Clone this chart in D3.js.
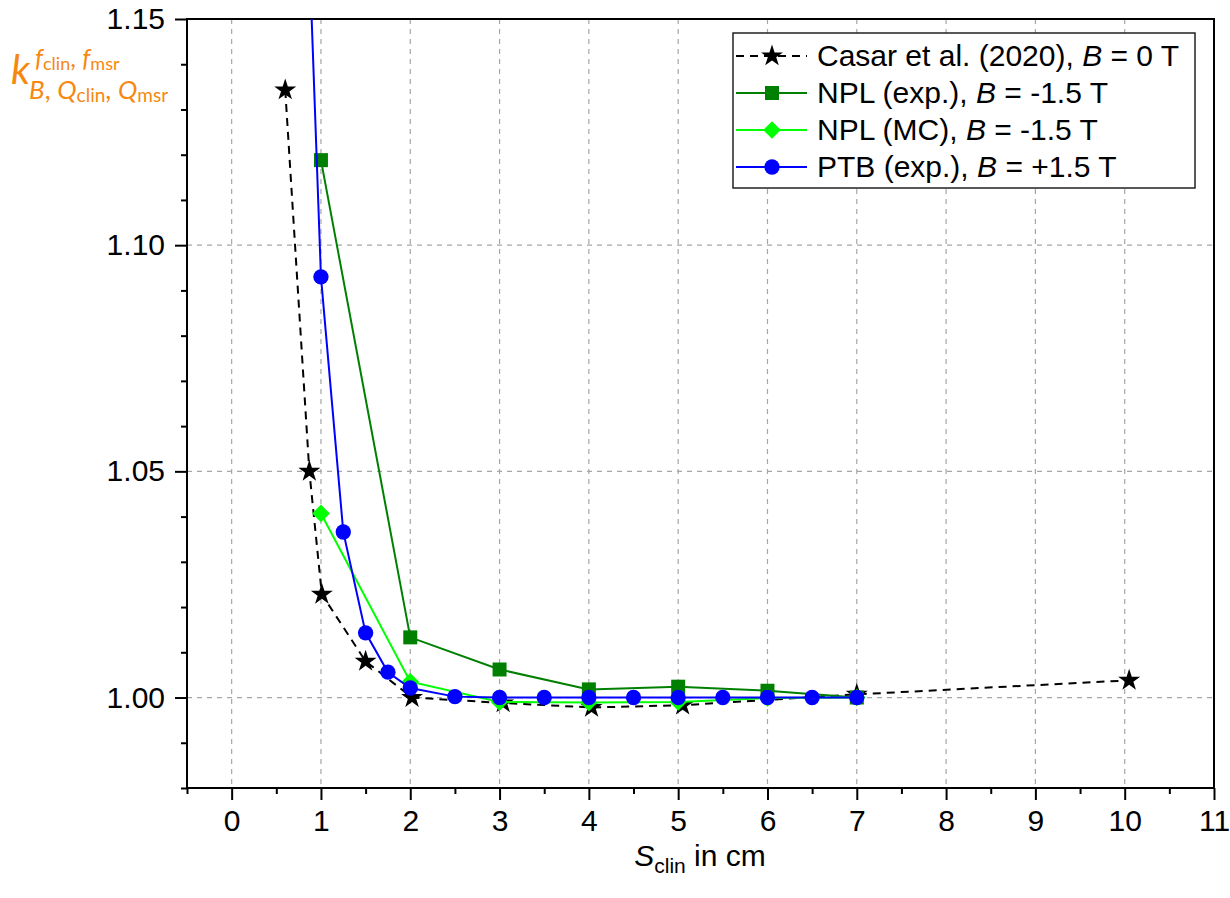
<!DOCTYPE html>
<html>
<head>
<meta charset="utf-8">
<script src="https://cdn.jsdelivr.net/npm/d3@7"></script>
<style>
  html, body { margin: 0; padding: 0; background: #fff; }
  svg { display: block; font-family: "Liberation Sans", Arial, sans-serif; }
</style>
</head>
<body>
<svg id="chart" width="1230" height="898"></svg>
<script>
// ---------------- data ----------------
const casarX = [0.6, 0.87, 1.01, 1.5, 2.02, 3.04, 4.03, 5.05, 7.0, 10.05];
const casarY = [1.1343, 1.0500, 1.0228, 1.0080, 1.0000, 0.9988, 0.9978, 0.9983, 1.0007, 1.0038];

const nplExpX = [1, 2, 3, 4, 5, 6, 7];
const nplExpY = [1.1188, 1.0133, 1.0062, 1.0018, 1.0024, 1.0015, 1.0000];

const nplMcX = [1, 2, 3, 4, 5, 6, 7];
const nplMcY = [1.0407, 1.0035, 0.9990, 0.9989, 0.9990, 0.9999, 1.0000];

const ptbX = [0.75, 1, 1.25, 1.5, 1.75, 2, 2.5, 3, 3.5, 4, 4.5, 5, 5.5, 6, 6.5, 7];
const ptbY = [1.23, 1.093, 1.0366, 1.0143, 1.0056, 1.0021, 1.0002, 1.0000, 1.0000, 1.0000, 1.0000, 1.0000, 1.0000, 1.0000, 1.0000, 1.0000];

const xMajorTicks = [0, 1, 2, 3, 4, 5, 6, 7, 8, 9, 10, 11];
const xMinorTicks = [-0.5, 0.5, 1.5, 2.5, 3.5, 4.5, 5.5, 6.5, 7.5, 8.5, 9.5, 10.5];
const yMajorTicks = [1.00, 1.05, 1.10, 1.15];
const yMinorTicks = [0.98, 0.99, 1.01, 1.02, 1.03, 1.04, 1.06, 1.07, 1.08, 1.09, 1.11, 1.12, 1.13, 1.14];
const xGrid = [0, 1, 2, 3, 4, 5, 6, 7, 8, 9, 10];
const yGrid = [1.00, 1.05, 1.10];

const seriesNames = ["Casar et al. (2020), ", "NPL (exp.), ", "NPL (MC), ", "PTB (exp.), "];
const seriesFields = ["0 T", "-1.5 T", "-1.5 T", "+1.5 T"];

// ---------------- layout ----------------
const L = 187, R = 1214, T = 19, B = 788;
const svg = d3.select("#chart");
const x = d3.scaleLinear().domain([-0.5, 11]).range([L, R]);
const y = d3.scaleLinear().domain([0.98, 1.15]).range([B, T]);

svg.append("defs").append("clipPath").attr("id", "plotclip")
  .append("rect").attr("x", L).attr("y", T).attr("width", R - L).attr("height", B - T);

// grid
const grid = svg.append("g");
grid.selectAll("line.gx").data(xGrid).join("line")
  .attr("x1", d => x(d)).attr("x2", d => x(d)).attr("y1", T).attr("y2", B)
  .attr("stroke", "#a6a6a6").attr("stroke-width", 1.2).attr("stroke-dasharray", "5,5");
grid.selectAll("line.gy").data(yGrid).join("line")
  .attr("y1", d => y(d)).attr("y2", d => y(d)).attr("x1", L).attr("x2", R)
  .attr("stroke", "#a6a6a6").attr("stroke-width", 1.2).attr("stroke-dasharray", "5,5");

// axes
const xAxisMajor = d3.axisBottom(x).tickValues(xMajorTicks).tickSize(12).tickPadding(10).tickFormat(d3.format("d"));
const xAxisMinor = d3.axisBottom(x).tickValues(xMinorTicks).tickSize(6).tickFormat("");
const yAxisMajor = d3.axisLeft(y).tickValues(yMajorTicks).tickSize(12).tickPadding(10).tickFormat(d3.format(".2f"));
const yAxisMinor = d3.axisLeft(y).tickValues(yMinorTicks).tickSize(6).tickFormat("");

function styleAxis(g) {
  g.select(".domain").remove();
  g.selectAll(".tick line").attr("stroke", "#000").attr("stroke-width", 2);
  g.selectAll(".tick text").attr("fill", "#000").style("font-size", "30px")
    .style("font-family", "'Liberation Sans', Arial, sans-serif");
}
svg.append("g").attr("transform", `translate(0,${B})`).call(xAxisMinor).call(styleAxis);
svg.append("g").attr("transform", `translate(0,${B})`).call(xAxisMajor).call(styleAxis);
svg.append("g").attr("transform", `translate(${L},0)`).call(yAxisMinor).call(styleAxis);
svg.append("g").attr("transform", `translate(${L},0)`).call(yAxisMajor).call(styleAxis);

// frame
svg.append("rect").attr("x", L).attr("y", T).attr("width", R - L).attr("height", B - T)
  .attr("fill", "none").attr("stroke", "#000").attr("stroke-width", 2);

// ---------------- series ----------------
const plot = svg.append("g").attr("clip-path", "url(#plotclip)");
const line = d3.line().x(d => x(d[0])).y(d => y(d[1]));
const zip = (xs, ys) => xs.map((v, i) => [v, ys[i]]);

const starPath = d3.symbol(d3.symbolStar, 150)();
const squarePath = d3.symbol(d3.symbolSquare, 196)();
const diamondPath = d3.symbol(d3.symbolSquare, 155)();
const circlePath = d3.symbol(d3.symbolCircle, 185)();

const series = [
  { data: zip(casarX, casarY), color: "#000000", width: 2, dash: "8,6", path: starPath, rot: 0 },
  { data: zip(nplExpX, nplExpY), color: "#008000", width: 2, dash: null, path: squarePath, rot: 0 },
  { data: zip(nplMcX, nplMcY), color: "#00ff00", width: 2, dash: null, path: diamondPath, rot: 45 },
  { data: zip(ptbX, ptbY), color: "#0000ff", width: 2, dash: null, path: circlePath, rot: 0 }
];

series.forEach(s => {
  plot.append("path").datum(s.data).attr("d", line)
    .attr("fill", "none").attr("stroke", s.color).attr("stroke-width", s.width)
    .attr("stroke-dasharray", s.dash);
  plot.selectAll(null).data(s.data).join("path")
    .attr("d", s.path)
    .attr("transform", d => `translate(${x(d[0])},${y(d[1])}) rotate(${s.rot})`)
    .attr("fill", s.color);
});

// ---------------- legend ----------------
const lg = svg.append("g");
lg.append("rect").attr("x", 733).attr("y", 33).attr("width", 462).attr("height", 155)
  .attr("fill", "#fff").attr("stroke", "#222").attr("stroke-width", 1.5);
series.forEach((s, i) => {
  const cy = 56 + i * 37;
  lg.append("line").attr("x1", 736).attr("x2", 807).attr("y1", cy).attr("y2", cy)
    .attr("stroke", s.color).attr("stroke-width", s.width).attr("stroke-dasharray", s.dash);
  lg.append("path").attr("d", s.path)
    .attr("transform", `translate(772,${cy}) rotate(${s.rot})`).attr("fill", s.color);
  const t = lg.append("text").attr("x", 817).attr("y", cy + 10)
    .style("font-size", "30px").attr("fill", "#000");
  t.append("tspan").text(seriesNames[i]);
  t.append("tspan").attr("font-style", "italic").text("B");
  t.append("tspan").text(" = " + seriesFields[i]);
});

// ---------------- axis titles ----------------
const xt = svg.append("text").attr("x", 700).attr("y", 866).attr("text-anchor", "middle")
  .style("font-size", "30px").attr("fill", "#000");
xt.append("tspan").attr("font-style", "italic").text("S");
xt.append("tspan").attr("dy", 7).style("font-size", "21px").text("clin");
xt.append("tspan").attr("dy", -7).text(" in cm");

const orange = "#f7880f";
const yl = svg.append("g").attr("fill", orange).style("font-family", "Lato, 'Open Sans', sans-serif");
yl.append("text").attr("x", 11).attr("y", 84).style("font-size", "40px").attr("font-style", "italic").text("k");
const sup = yl.append("text").attr("x", 35).attr("y", 67).style("font-size", "25px");
sup.append("tspan").attr("font-style", "italic").text("f");
sup.append("tspan").attr("dy", 3).style("font-size", "18px").text("clin");
sup.append("tspan").attr("dy", -3).text(", ");
sup.append("tspan").attr("font-style", "italic").text("f");
sup.append("tspan").attr("dy", 3).style("font-size", "18px").text("msr");
const sub = yl.append("text").attr("x", 29).attr("y", 99).style("font-size", "26px");
sub.append("tspan").attr("font-style", "italic").text("B");
sub.append("tspan").text(", ");
sub.append("tspan").attr("font-style", "italic").text("Q");
sub.append("tspan").attr("dy", 3).style("font-size", "19px").text("clin");
sub.append("tspan").attr("dy", -3).text(", ");
sub.append("tspan").attr("font-style", "italic").text("Q");
sub.append("tspan").attr("dy", 3).style("font-size", "19px").text("msr");
</script>
</body>
</html>
